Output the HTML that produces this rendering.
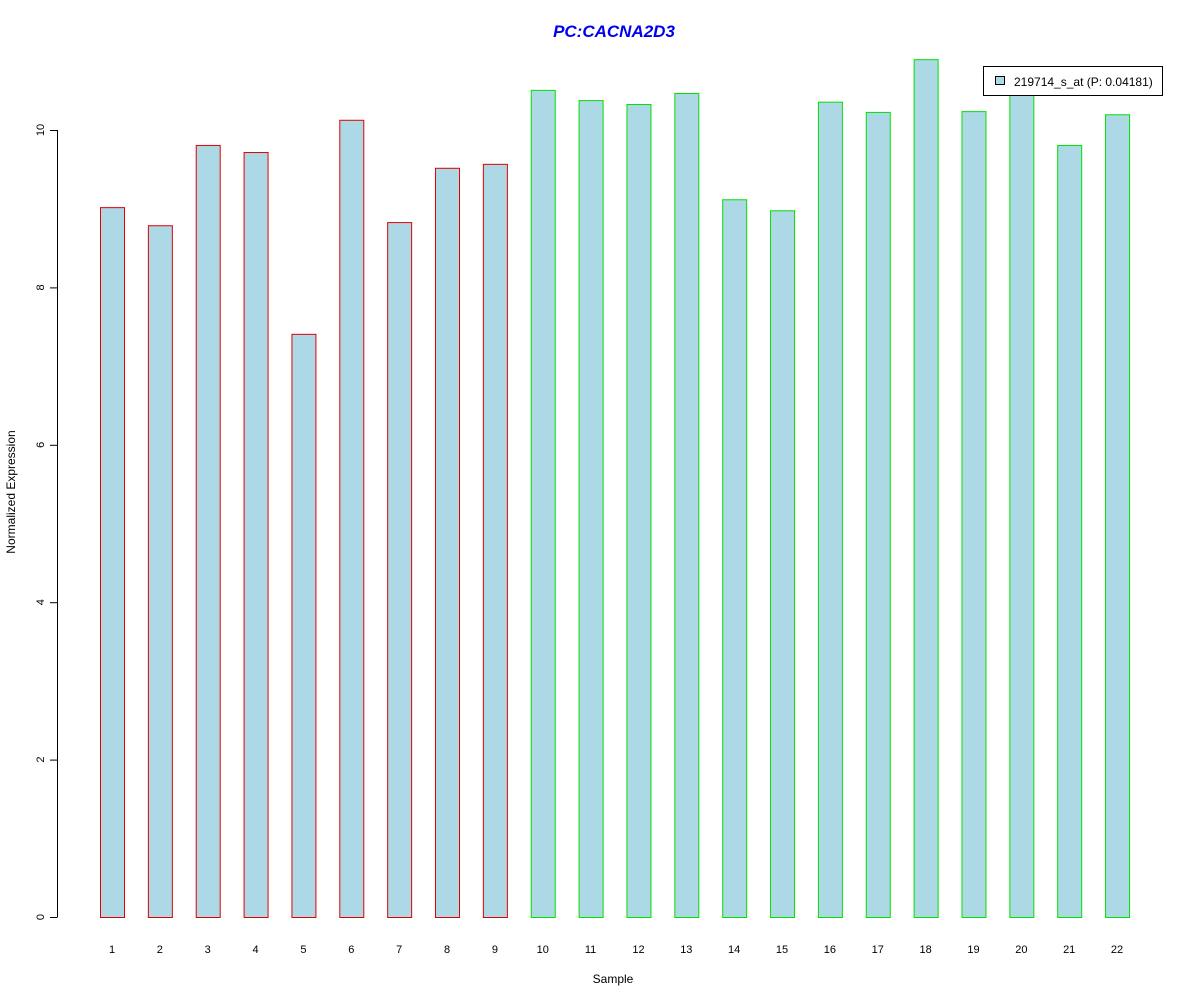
<!DOCTYPE html>
<html><head><meta charset="utf-8"><style>body{margin:0;background:#fff}svg{display:block;font-family:"Liberation Sans",Arial,sans-serif}</style></head>
<body>
<svg id="chart" width="1200" height="1000" xmlns="http://www.w3.org/2000/svg">
<rect width="1200" height="1000" fill="#fff"/>
<text x="614" y="37" text-anchor="middle" font-size="17" font-weight="bold" font-style="italic" fill="#0000ee">PC:CACNA2D3</text>
<text x="613" y="983" text-anchor="middle" font-size="12">Sample</text>
<text transform="translate(15,492) rotate(-90)" text-anchor="middle" font-size="12">Normalized Expression</text>
<g id="yaxis"></g>
<g id="bars"></g>
<g id="xlabels"></g>
<g>
<rect x="983.5" y="66.5" width="179" height="29" fill="#fff" stroke="#000"/>
<rect x="995.5" y="76.5" width="9" height="8" fill="#add8e6" stroke="#000"/>
<text x="1014" y="86" font-size="12">219714_s_at (P: 0.04181)</text>
</g>
</svg>
<script>
const categories = ["1","2","3","4","5","6","7","8","9","10","11","12","13","14","15","16","17","18","19","20","21","22"];
const values = [9.02,8.79,9.81,9.72,7.41,10.13,8.83,9.52,9.57,10.51,10.38,10.33,10.47,9.12,8.98,10.36,10.23,10.90,10.24,10.5,9.81,10.20];
const groups = ["a","a","a","a","a","a","a","a","a","b","b","b","b","b","b","b","b","b","b","b","b","b"];
const yTicks = [0,2,4,6,8,10];
const NS="http://www.w3.org/2000/svg";
const y = v => 917 - v*78.7;
const x = i => 100 + i*47.86;
const bw = 24;
function mk(t,a,p){const e=document.createElementNS(NS,t);for(const k in a)e.setAttribute(k,a[k]);p.appendChild(e);return e;}
const ya=document.getElementById('yaxis');
const yl=mk('line',{x1:57.5,x2:57.5,y1:y(0),y2:y(10),stroke:'#000'},ya);


yTicks.forEach(t=>{
  const tk=mk('line',{x1:50,x2:57.5,y1:y(t)+0.5,y2:y(t)+0.5,stroke:'#000'},ya);
  
  
  const tx=mk('text',{transform:`translate(44,${y(t)}) rotate(-90)`,'text-anchor':'middle','font-size':11},ya);
  tx.textContent=t;
  
  
});
const bg=document.getElementById('bars'), xg=document.getElementById('xlabels');
values.forEach((v,i)=>{
  const r=mk('rect',{x:x(i)+0.5,y:y(v)+0.5,width:bw,height:y(0)-y(v),fill:'#add8e6',stroke:groups[i]==='a'?'#e00000':'#00e000'},bg);
  
  
  const t=mk('text',{x:x(i)+bw/2,y:953,'text-anchor':'middle','font-size':11},xg);
  t.textContent=categories[i];
  
  
});
</script>
</body></html>
